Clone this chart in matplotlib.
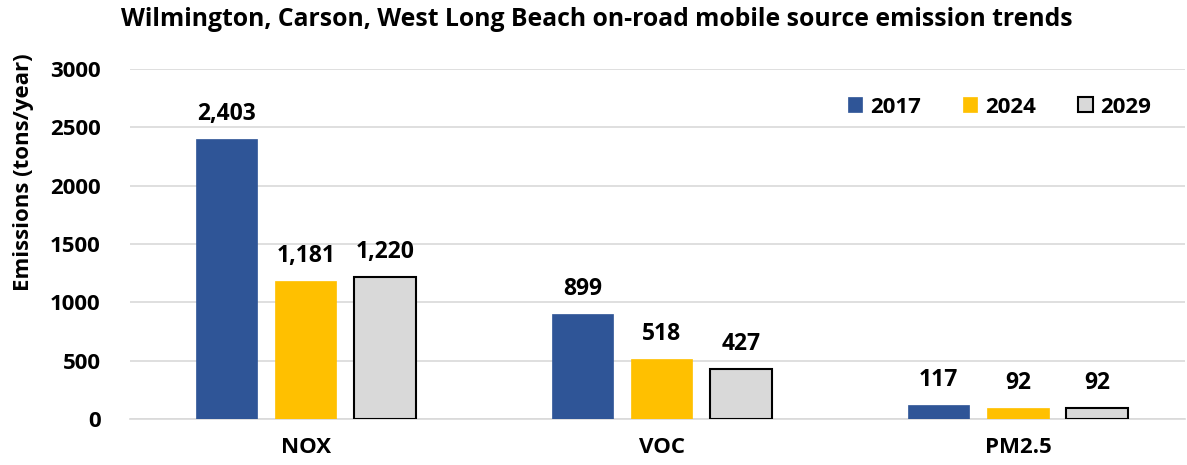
import matplotlib
matplotlib.use('Agg')
import numpy as np
import matplotlib.pyplot as plt
from matplotlib.patches import Patch

plt.rcParams['font.family'] = ['Open Sans', 'DejaVu Sans']
plt.rcParams['font.weight'] = 'bold'

pollutants = ['NOX', 'VOC', 'PM2.5']
years = ['2017', '2024', '2029']
nox = [2403, 1181, 1220]
voc = [899, 518, 427]
pm25 = [117, 92, 92]

# one series per year across the pollutants
emis_2017 = [nox[0], voc[0], pm25[0]]
emis_2024 = [nox[1], voc[1], pm25[1]]
emis_2029 = [nox[2], voc[2], pm25[2]]
series = [emis_2017, emis_2024, emis_2029]

colors = ['#2F5597', '#FFC000', '#D9D9D9']
edges = ['#2F5597', '#FFC000', 'black']
lws = [0.5, 0.5, 1.5]

fig = plt.figure(figsize=(11.87, 4.65), dpi=100)
ax = fig.add_axes([0.1095, 0.099, 0.889, 0.7527])

x = np.arange(len(pollutants))
width = 0.172
step = 0.222
for k, vals in enumerate(series):
    pos = x + (k - 1) * step
    bars = ax.bar(pos, vals, width, color=colors[k], edgecolor=edges[k],
                  linewidth=lws[k], zorder=3)
    for b, v in zip(bars, vals):
        ax.text(b.get_x() + b.get_width() / 2, v + 110, f'{v:,}',
                ha='center', va='bottom', fontsize=16.5, fontweight='bold')

ax.set_xlim(-0.494, 2.47)
ax.set_ylim(0, 3000)
ax.set_yticks(np.arange(0, 3001, 500))
ax.set_xticks(x)
ax.set_xticklabels(pollutants)
ax.tick_params(axis='both', length=0, labelsize=16)
ax.tick_params(axis='x', pad=13)
ax.tick_params(axis='y', pad=21)
for lab in ax.get_xticklabels() + ax.get_yticklabels():
    lab.set_fontweight('bold')

ax.grid(axis='y', color='#D9D9D9', linewidth=1.2, zorder=0)
for s in ['top', 'right', 'left']:
    ax.spines[s].set_visible(False)
ax.spines['bottom'].set_color('#D9D9D9')
ax.spines['bottom'].set_linewidth(1.2)

ax.set_ylabel('Emissions (tons/year)', fontsize=16, fontweight='bold')
ax.yaxis.set_label_coords(-0.091, 0.705)

handles = [Patch(facecolor=colors[k], edgecolor=edges[k], linewidth=lws[k])
           for k in range(3)]
leg = ax.legend(handles, years, loc='center right', ncol=3, frameon=False,
                bbox_to_anchor=(0.968, 0.891), borderpad=0, borderaxespad=0,
                fontsize=16, handlelength=0.65, handleheight=0.65,
                handletextpad=0.35, columnspacing=1.9)
for t in leg.get_texts():
    t.set_fontweight('bold')

fig.text(0.102, 0.958, 'Wilmington, Carson, West Long Beach on-road mobile source emission trends',
         fontsize=17.8, fontweight='bold', ha='left', va='center')

fig.savefig('out.png', dpi=100)
